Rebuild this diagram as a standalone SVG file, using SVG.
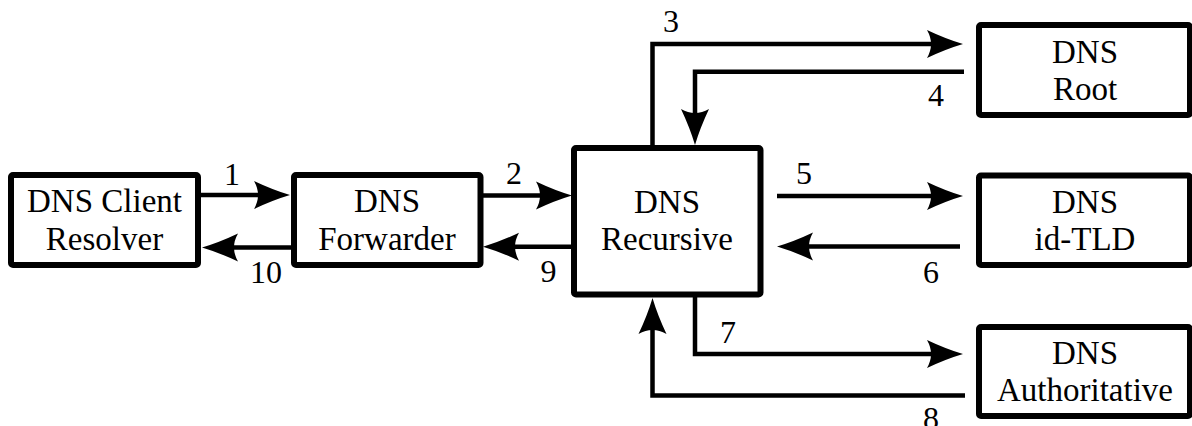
<svg xmlns="http://www.w3.org/2000/svg" width="1192" height="426" viewBox="0 0 1192 426">
  <style>
    .box { fill: #ffffff; stroke: #000000; stroke-width: 6; }
    .wire { fill: none; stroke: #000000; stroke-width: 4.5; stroke-linejoin: miter; }
    text { fill: #000000; text-anchor: middle; }
  </style>
  <defs>
    <marker id="ah" markerUnits="userSpaceOnUse" viewBox="-20 -16 44 32" markerWidth="44" markerHeight="32" refX="0" refY="0" orient="auto" overflow="visible">
      <path d="M20,0 Q3,-5 -16,-14 Q-8,0 -16,14 Q3,5 20,0 Z" fill="#000000"/>
    </marker>
  </defs>

  <g id="connectors" font-family="Liberation Serif, Times New Roman, Times, serif" font-size="32">
    <path class="wire" d="M198,195 H270" marker-end="url(#ah)"/>
    <path class="wire" d="M294,247.5 H222" marker-end="url(#ah)"/>
    <path class="wire" d="M480.5,195.5 H552" marker-end="url(#ah)"/>
    <path class="wire" d="M574,246.7 H503" marker-end="url(#ah)"/>
    <path class="wire" d="M652.5,148 V44 H943" marker-end="url(#ah)"/>
    <path class="wire" d="M964,71.7 H695 V125" marker-end="url(#ah)"/>
    <path class="wire" d="M777,196 H943" marker-end="url(#ah)"/>
    <path class="wire" d="M960,246.5 H797" marker-end="url(#ah)"/>
    <path class="wire" d="M695,294.5 V354 H943" marker-end="url(#ah)"/>
    <path class="wire" d="M965,395.5 H652.5 V318" marker-end="url(#ah)"/>
    <text x="232" y="185">1</text>
    <text x="514" y="184">2</text>
    <text x="671" y="32">3</text>
    <text x="936" y="106">4</text>
    <text x="804" y="184">5</text>
    <text x="931" y="283">6</text>
    <text x="728" y="343">7</text>
    <text x="931" y="429">8</text>
    <text x="548.5" y="282">9</text>
    <text x="266" y="283">10</text>
  </g>

  <g id="client" font-family="Liberation Serif, Times New Roman, Times, serif" font-size="33">
    <rect class="box" x="11" y="175" width="187" height="90" rx="2"/>
    <text x="104.5" y="212">DNS Client</text>
    <text x="104.5" y="250">Resolver</text>
  </g>
  <g id="forwarder" font-family="Liberation Serif, Times New Roman, Times, serif" font-size="33">
    <rect class="box" x="294" y="175" width="186.5" height="90" rx="2"/>
    <text x="387" y="212">DNS</text>
    <text x="387" y="250">Forwarder</text>
  </g>
  <g id="recursive" font-family="Liberation Serif, Times New Roman, Times, serif" font-size="33">
    <rect class="box" x="574" y="148" width="186.5" height="146.5" rx="2"/>
    <text x="667" y="213">DNS</text>
    <text x="667" y="250">Recursive</text>
  </g>
  <g id="root" font-family="Liberation Serif, Times New Roman, Times, serif" font-size="33">
    <rect class="box" x="979" y="25" width="211" height="90" rx="2"/>
    <text x="1085" y="63">DNS</text>
    <text x="1085" y="100">Root</text>
  </g>
  <g id="tld" font-family="Liberation Serif, Times New Roman, Times, serif" font-size="33">
    <rect class="box" x="979" y="175.5" width="211" height="89.5" rx="2"/>
    <text x="1085" y="213">DNS</text>
    <text x="1085" y="250">id-TLD</text>
  </g>
  <g id="authoritative" font-family="Liberation Serif, Times New Roman, Times, serif" font-size="33">
    <rect class="box" x="979" y="327" width="211" height="89" rx="2"/>
    <text x="1085" y="364">DNS</text>
    <text x="1085" y="401">Authoritative</text>
  </g>
</svg>
